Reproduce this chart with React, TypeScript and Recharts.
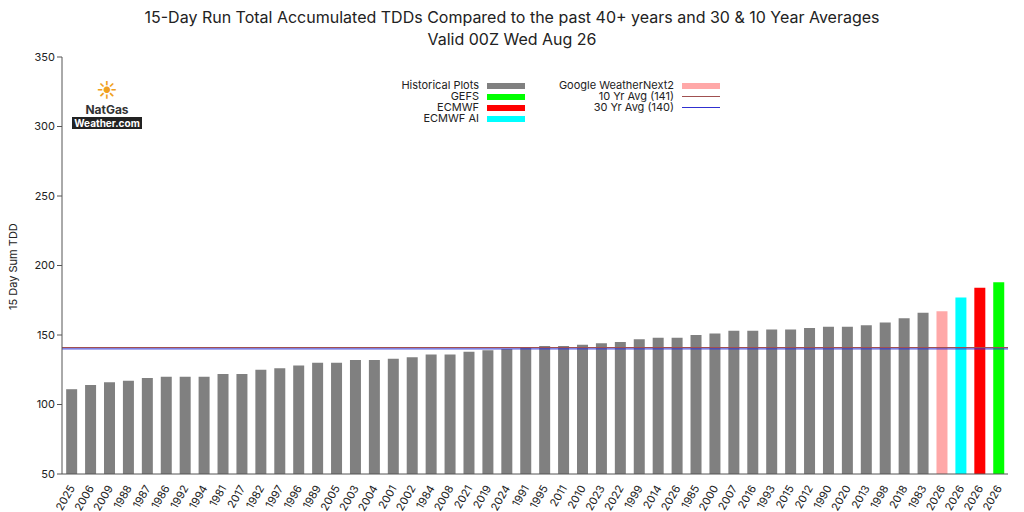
import React from 'react';
import { BarChart, Bar, XAxis, YAxis, Cell, ReferenceLine } from 'recharts';

const years = ['2025','2006','2009','1988','1987','1986','1992','1994','1981','2017','1982','1997','1996','1989','2005','2003','2004','2001','2002','1984','2008','2021','2019','2024','1991','1995','2011','2010','2023','2022','1999','2014','2026','1985','2000','2007','2016','1993','2015','2012','1990','2020','2013','1998','2018','1983','2026','2026','2026','2026'];
const values = [111,114,116,117,119,120,120,120,122,122,125,126,128,130,130,132,132,133,134,136,136,138,139,140,141,142,142,143,144,145,147,148,148,150,151,153,153,154,154,155,156,156,157,159,162,166,167,177,184,188];
const barColors = [...Array(46).fill('#808080'), '#ffa8a8', '#00ffff', '#ff0000', '#00ff00'];
const avg10 = 141;
const avg30 = 140;
const yTicks = [50,100,150,200,250,300,350];

const data = years.map((y, i) => ({ id: i, year: y, value: values[i] }));

const legendLeft = [
  { label: 'Historical Plots', color: '#808080' },
  { label: 'GEFS', color: '#00ff00' },
  { label: 'ECMWF', color: '#ff0000' },
  { label: 'ECMWF AI', color: '#00ffff' },
];
const legendRight = [
  { label: 'Google WeatherNext2', color: '#ffa8a8', line: false },
  { label: '10 Yr Avg (141)', color: '#a05050', line: true },
  { label: '30 Yr Avg (140)', color: '#3030d0', line: true },
];

const XTick = (props: any) => {
  const { x, y, payload } = props;
  return (
    <text x={x + 4} y={y + 6} transform={`rotate(-60 ${x + 4} ${y + 6})`} textAnchor="end" fontSize={11} fill="#222">
      {years[payload.value]}
    </text>
  );
};

const LegendCol = ({ items, left, width }: any) => (
  <div style={{ position: 'absolute', left, top: 80, width, fontSize: 11, lineHeight: '11px', color: '#222' }}>
    {items.map((it: any) => (
      <div key={it.label} style={{ display: 'flex', justifyContent: 'flex-end', alignItems: 'center', height: 11 }}>
        <span>{it.label}</span>
        <span style={{ display: 'inline-block', width: 38, marginLeft: 8, height: it.line ? 1 : 6, background: it.color }} />
      </div>
    ))}
  </div>
);

export default function App() {
  return (
    <div style={{ position: 'absolute', left: 0, top: 0, width: 1024, height: 512, background: '#fff', fontFamily: 'Inter, "DejaVu Sans", sans-serif' }}>
      <div style={{ position: 'absolute', top: 6, width: 1024, textAlign: 'center', fontSize: 16, color: '#222', lineHeight: '22px' }}>
        15-Day Run Total Accumulated TDDs Compared to the past 40+ years and 30 &amp; 10 Year Averages<br />Valid 00Z Wed Aug 26
      </div>
      <div style={{ position: 'absolute', left: 6, top: 265, transform: 'rotate(-90deg)', transformOrigin: 'left top', fontSize: 11, color: '#222' }}>
        <span style={{ position: 'relative', left: -45 }}>15 Day Sum TDD</span>
      </div>
      <BarChart width={1024} height={512} data={data} margin={{ top: 57, right: 16, bottom: 0, left: 22 }} barCategoryGap="22%">
        <XAxis dataKey="id" tick={<XTick />} interval={0} stroke="#555" tickLine={false} height={38} />
        <YAxis domain={[50, 350]} ticks={yTicks} width={40} stroke="#555" tick={{ fontSize: 11, fill: '#222' }} tickSize={5} allowDataOverflow />
        <YAxis yAxisId="r" orientation="right" domain={[50, 350]} ticks={yTicks} width={0} stroke="#555" tick={false} />
        <Bar dataKey="value" isAnimationActive={false}>
          {data.map((d, i) => <Cell key={d.id} fill={barColors[i]} />)}
        </Bar>
        <ReferenceLine y={avg10} stroke="#a05050" />
        <ReferenceLine y={avg30} stroke="#3030d0" />
      </BarChart>
      <div style={{ position: 'absolute', left: 72, top: 78, width: 70, height: 56, textAlign: 'center', fontSize: 12, fontWeight: 700, color: '#333' }}>
        <div style={{ fontSize: 20, color: '#f0a020' }}>☀</div>
        <div>NatGas</div>
        <div style={{ background: '#222', color: '#fff', fontSize: 10 }}>Weather.com</div>
      </div>
      <LegendCol items={legendLeft} left={330} width={195} />
      <LegendCol items={legendRight} left={520} width={200} />
    </div>
  );
}
